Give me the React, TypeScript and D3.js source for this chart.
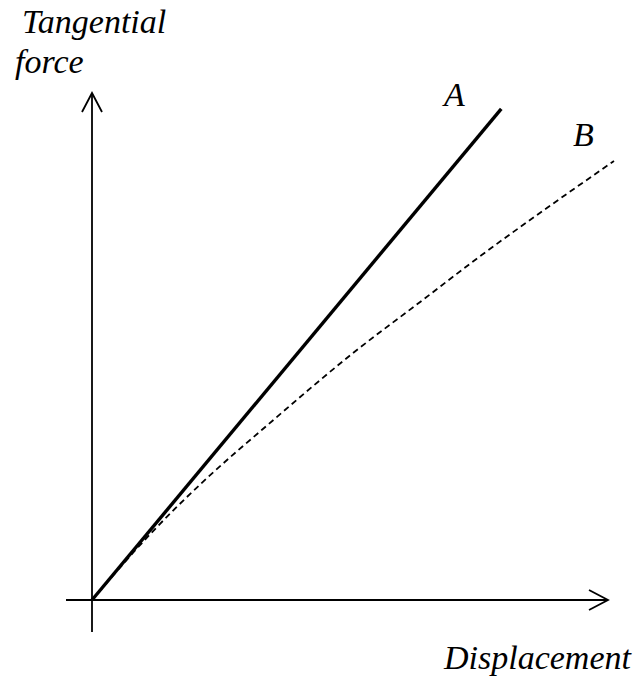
import React from "react";
import * as d3 from "d3";

// Curve A: linear tangential force vs displacement
const curveAX: number[] = [0, 78.4];
const curveAY: number[] = [0, 94.1];

// Curve B: softening response (dashed)
const curveBX: number[] = [0, 3, 8, 16, 21, 35, 50, 63, 74, 87, 100];
const curveBY: number[] = [0, 3.5, 9.2, 17.6, 22.4, 34.7, 47.3, 57.2, 65.6, 75.0, 84.1];

const curveLabels: string[] = ["A", "B"];
const yAxisTitle: string[] = ["Tangential", "force"];
const xAxisTitle = "Displacement";

const W = 637;
const H = 686;

export default function App() {
  const x = d3.scaleLinear().domain([0, 100]).range([92, 614]);
  const y = d3.scaleLinear().domain([0, 100]).range([600, 78]);

  const lineGen = d3
    .line<[number, number]>()
    .x((d) => x(d[0]))
    .y((d) => y(d[1]));

  const lineB = d3
    .line<[number, number]>()
    .x((d) => x(d[0]))
    .y((d) => y(d[1]))
    .curve(d3.curveMonotoneX);

  const aPts: [number, number][] = curveAX.map((v, i) => [v, curveAY[i]]);
  const bPts: [number, number][] = curveBX.map((v, i) => [v, curveBY[i]]);

  const ox = x(0);
  const oy = y(0);
  const xEnd = 608;
  const yEnd = 93;
  const ah = 19; // arrowhead length
  const aw = 10; // arrowhead half width

  return (
    <svg
      width={W}
      height={H}
      style={{ position: "absolute", left: 0, top: 0, background: "#fff" }}
    >
      {/* axes */}
      <g stroke="#000" strokeWidth={1.8} fill="none">
        <line x1={66} y1={oy} x2={xEnd} y2={oy} />
        <line x1={ox} y1={632} x2={ox} y2={yEnd} />
        <polyline
          points={`${xEnd - ah},${oy - aw} ${xEnd},${oy} ${xEnd - ah},${oy + aw}`}
        />
        <polyline
          points={`${ox - aw},${yEnd + ah} ${ox},${yEnd} ${ox + aw},${yEnd + ah}`}
        />
      </g>

      {/* curves */}
      <path
        d={lineB(bPts) ?? ""}
        fill="none"
        stroke="#000"
        strokeWidth={1.8}
        strokeDasharray="6 4"
      />
      <path d={lineGen(aPts) ?? ""} fill="none" stroke="#000" strokeWidth={3.4} />

      {/* labels */}
      <g
        style={{ fontFamily: "Liberation Serif", fontStyle: "italic", fontSize: "34px" }}
        fill="#000"
      >
        <text x={22} y={33}>{yAxisTitle[0]}</text>
        <text x={15} y={73}>{yAxisTitle[1]}</text>
        <text x={444} y={669}>{xAxisTitle}</text>
        <text x={444} y={106}>{curveLabels[0]}</text>
        <text x={573} y={146}>{curveLabels[1]}</text>
      </g>
    </svg>
  );
}
